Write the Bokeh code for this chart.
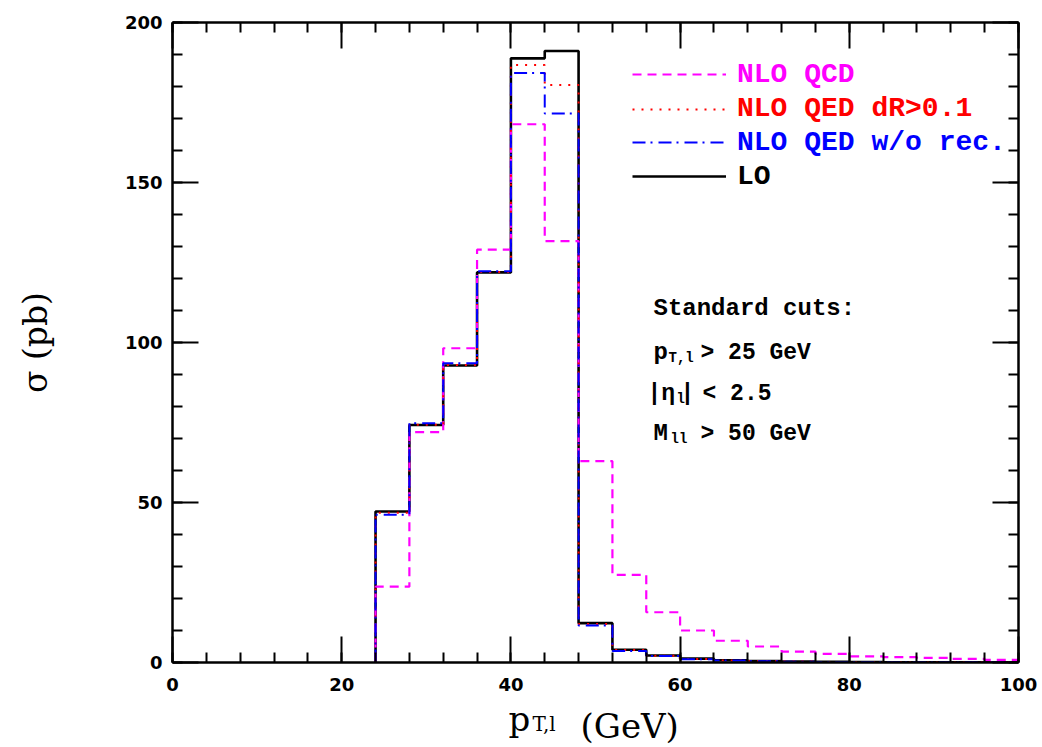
from bokeh.plotting import figure
from bokeh.layouts import column
from bokeh.models import (Range1d, LinearAxis, Label, Legend, LegendItem,
                          SingleIntervalTicker)
from bokeh.embed import file_html
from bokeh.resources import INLINE

# ---- data (4 GeV bins from 24 to 100 GeV, sigma in pb) ----
bin_edges = [24, 28, 32, 36, 40, 44, 48, 52, 56, 60, 64, 68, 72, 76, 80, 84, 88, 92, 96, 100]
nlo_qcd = [23.7, 72.0, 98.2, 129.0, 168.2, 131.7, 62.9, 27.4, 15.7, 10.0, 6.8, 5.0, 3.4, 2.7, 1.9, 1.65, 1.45, 1.15, 0.85]
nlo_qed_dr = [46.8, 74.3, 93.0, 122.0, 186.7, 180.5, 12.0, 3.9, 2.1, 1.1, 0.65, 0.42, 0.28, 0.19, 0.14, 0.10, 0.08, 0.06, 0.05]
nlo_qed_worec = [46.2, 74.8, 93.5, 122.3, 184.2, 171.6, 11.6, 3.6, 2.0, 1.0, 0.60, 0.40, 0.27, 0.18, 0.13, 0.10, 0.07, 0.05, 0.04]
lo = [47.2, 74.2, 92.8, 121.9, 188.8, 191.1, 12.3, 4.0, 2.2, 1.2, 0.70, 0.45, 0.30, 0.20, 0.15, 0.10, 0.08, 0.06, 0.05]

series_names = ["NLO QCD", "NLO QED dR>0.1", "NLO QED w/o rec.", "LO"]
x_ticks_interval = 20
y_ticks_interval = 50


def step_xy(edges, vals):
    xs = [edges[0]]
    ys = [0.0]
    for i, v in enumerate(vals):
        xs += [edges[i], edges[i + 1]]
        ys += [v, v]
    return xs, ys


W = 1042
H_MAIN = 702
H_TITLE = 747 - H_MAIN
FL, FR, FT, FB = 172, 1018, 22, 662   # frame edges in page pixels

p = figure(width=W, height=H_MAIN, output_backend="svg", toolbar_location=None,
           x_range=Range1d(0, 100), y_range=Range1d(0, 200), title=None,
           min_border_left=FL, min_border_right=W - FR,
           min_border_top=FT, min_border_bottom=H_MAIN - FB)
p.grid.visible = False
p.outline_line_color = None
p.background_fill_color = "white"
p.border_fill_color = "white"

p.xaxis.ticker = SingleIntervalTicker(interval=x_ticks_interval, num_minor_ticks=5)
p.yaxis.ticker = SingleIntervalTicker(interval=y_ticks_interval, num_minor_ticks=5)


def style_axis(ax, show_labels=True):
    ax.axis_line_width = 2.5
    ax.axis_line_color = "black"
    ax.major_tick_in = 26
    ax.major_tick_out = 0
    ax.minor_tick_in = 10
    ax.minor_tick_out = 0
    ax.major_tick_line_width = 2
    ax.minor_tick_line_width = 2
    ax.major_tick_line_color = "black"
    ax.minor_tick_line_color = "black"
    if show_labels:
        ax.major_label_text_font = "DejaVu Sans"
        ax.major_label_text_font_style = "bold"
        ax.major_label_text_font_size = "18px"
        ax.major_label_text_color = "black"
    else:
        ax.major_label_text_color = None
        ax.major_label_text_font_size = "1px"
        ax.major_label_standoff = 0
        ax.axis_label = None


for ax in p.xaxis:
    style_axis(ax)
    ax.major_label_standoff = 15
for ax in p.yaxis:
    style_axis(ax)
    ax.major_label_standoff = 10
    ax.axis_label = "σ (pb)"
    ax.axis_label_text_font = "DejaVu Serif"
    ax.axis_label_text_font_style = "normal"
    ax.axis_label_text_font_size = "33px"
    ax.axis_label_text_color = "black"
    ax.axis_label_standoff = 67

ra = LinearAxis(ticker=SingleIntervalTicker(interval=y_ticks_interval, num_minor_ticks=5))
style_axis(ra, show_labels=False)
p.add_layout(ra, "right")
ta = LinearAxis(ticker=SingleIntervalTicker(interval=x_ticks_interval, num_minor_ticks=5))
style_axis(ta, show_labels=False)
p.add_layout(ta, "above")

# ---- histograms ----
xs, ys = step_xy(bin_edges, lo)
r_lo = p.line(xs, ys, line_color="black", line_width=2.6)
xs, ys = step_xy(bin_edges, nlo_qcd)
r_qcd = p.line(xs, ys, line_color="#ff00ff", line_width=2.2, line_dash="9 6")
xs, ys = step_xy(bin_edges, nlo_qed_dr)
r_dr = p.line(xs, ys, line_color="#ff0000", line_width=2.0, line_dash="2 7")
xs, ys = step_xy(bin_edges, nlo_qed_worec)
r_wo = p.line(xs, ys, line_color="#0000ff", line_width=2.0, line_dash="13 5 2 6")

# ---- legend (one per entry, each with its own text colour) ----
row_centers = [74.3, 108.5, 142.0, 176.0]  # page y of each legend row
leg_renderers = [r_qcd, r_dr, r_wo, r_lo]
leg_colors = ["#ff00ff", "#ff0000", "#0000ff", "black"]
LH = 36
for name, rr, col, yc in zip(series_names, leg_renderers, leg_colors, row_centers):
    lg = Legend(items=[LegendItem(label=name, renderers=[rr])],
                location=(632 - FL, FB - yc - LH / 2),
                padding=0, margin=0, spacing=0,
                glyph_width=94, glyph_height=LH, label_height=LH,
                label_standoff=11,
                label_text_font="Liberation Mono", label_text_font_size="28px",
                label_text_font_style="bold",
                label_text_color=col,
                border_line_color=None, background_fill_alpha=0)
    p.add_layout(lg, "center")


def txt(s, px, py, size, style="bold"):
    p.add_layout(Label(x=px - FL, y=FB - py, x_units="screen", y_units="screen",
                       text=s, text_font="Liberation Mono", text_font_size=size,
                       text_font_style=style, text_color="black",
                       text_baseline="alphabetic", text_align="left"))


# ---- cuts annotation ----
txt("Standard cuts:", 653, 308, "24px")
txt("p", 653, 352, "24px")
txt("T,l", 668, 357, "14px")
txt("> 25 GeV", 700, 352, "23px")
txt("|η", 647, 393, "23px")
txt("l", 676, 398, "14px")
txt("|", 680, 393, "23px")
txt("< 2.5", 702, 393, "23px")
txt("M", 653, 433, "24px")
txt("ll", 670, 438, "14px")
txt("> 50 GeV", 700, 433, "23px")

# ---- x axis title, drawn in a strip below the plot ----
pt = figure(width=W, height=H_TITLE, output_backend="svg", toolbar_location=None,
            x_range=Range1d(FL, FR), y_range=Range1d(747, H_MAIN), title=None,
            min_border_left=FL, min_border_right=W - FR,
            min_border_top=0, min_border_bottom=0)
pt.axis.visible = False
pt.grid.visible = False
pt.outline_line_color = None
pt.background_fill_color = "white"
pt.border_fill_color = "white"


def ttl(s, px, py, size):
    pt.add_layout(Label(x=px, y=py, text=s, text_font="DejaVu Serif",
                        text_font_size=size, text_color="black",
                        text_baseline="alphabetic", text_align="left"))


ttl("p", 508, 718, "34px")
ttl("T,l", 532, 723, "20px")
ttl("(GeV)", 580, 725, "34px")

layout = column(p, pt, spacing=0)
open("out.html", "w").write(file_html(layout, INLINE))
